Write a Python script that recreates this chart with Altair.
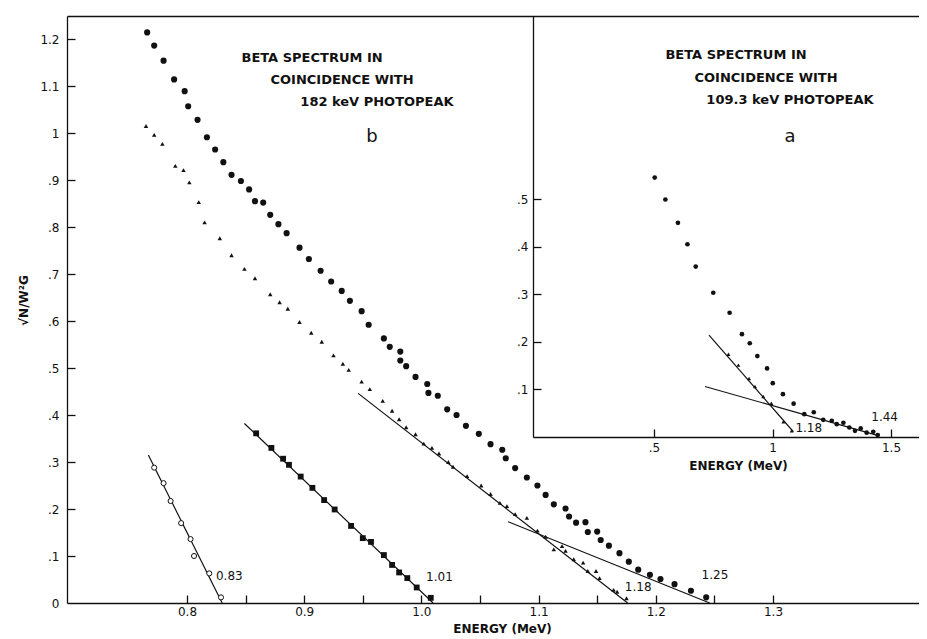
import altair as alt
import pandas as pd

# ---------------- main panel (b): 182 keV coincidence ----------------
dot_x = [0.766, 0.772, 0.780, 0.789, 0.798, 0.801, 0.809, 0.817, 0.824, 0.831, 0.838, 0.846, 0.853, 0.858,
         0.865, 0.871, 0.878, 0.885, 0.896, 0.904, 0.914, 0.923, 0.932, 0.939, 0.949, 0.955, 0.968, 0.973,
         0.982, 0.982, 0.987, 0.995, 1.005, 1.006, 1.014, 1.022, 1.030, 1.038, 1.049, 1.059, 1.069, 1.072,
         1.080, 1.090, 1.099, 1.106, 1.113, 1.123, 1.126, 1.132, 1.140, 1.142, 1.150, 1.153, 1.160, 1.169,
         1.177, 1.185, 1.195, 1.204, 1.216, 1.230, 1.243]
dot_y = [1.214, 1.186, 1.154, 1.114, 1.089, 1.057, 1.028, 0.991, 0.965, 0.938, 0.911, 0.898, 0.880, 0.855,
         0.852, 0.826, 0.806, 0.787, 0.756, 0.732, 0.707, 0.684, 0.664, 0.643, 0.621, 0.592, 0.563, 0.545,
         0.535, 0.516, 0.504, 0.481, 0.466, 0.447, 0.441, 0.412, 0.400, 0.377, 0.360, 0.338, 0.326, 0.308,
         0.287, 0.267, 0.250, 0.230, 0.210, 0.201, 0.184, 0.171, 0.172, 0.151, 0.152, 0.134, 0.122, 0.106,
         0.088, 0.071, 0.060, 0.051, 0.040, 0.026, 0.012]

tri_x = [0.765, 0.772, 0.779, 0.790, 0.797, 0.802, 0.810, 0.815, 0.828, 0.838, 0.849, 0.858, 0.871, 0.879,
         0.886, 0.896, 0.906, 0.915, 0.925, 0.933, 0.938, 0.949, 0.956, 0.967, 0.975, 0.981, 0.987, 0.995,
         1.002, 1.009, 1.015, 1.023, 1.027, 1.039, 1.051, 1.059, 1.067, 1.073, 1.080, 1.090, 1.099, 1.106,
         1.113, 1.120, 1.123, 1.130, 1.138, 1.142, 1.149, 1.152, 1.164, 1.167, 1.175]
tri_y = [1.015, 0.996, 0.977, 0.930, 0.921, 0.895, 0.853, 0.810, 0.776, 0.740, 0.711, 0.691, 0.657, 0.640,
         0.626, 0.598, 0.575, 0.556, 0.527, 0.509, 0.496, 0.471, 0.455, 0.430, 0.409, 0.391, 0.374, 0.359,
         0.339, 0.330, 0.318, 0.300, 0.290, 0.270, 0.250, 0.232, 0.213, 0.206, 0.189, 0.181, 0.154, 0.141,
         0.114, 0.121, 0.111, 0.093, 0.086, 0.068, 0.068, 0.053, 0.028, 0.024, 0.010]

sq_x = [0.859, 0.872, 0.882, 0.887, 0.897, 0.907, 0.917, 0.926, 0.940, 0.950, 0.957, 0.968, 0.975, 0.981,
        0.988, 0.996, 1.008]
sq_y = [0.361, 0.330, 0.307, 0.294, 0.269, 0.245, 0.219, 0.199, 0.164, 0.138, 0.130, 0.102, 0.081, 0.065,
        0.053, 0.033, 0.011]

open_x = [0.772, 0.780, 0.786, 0.795, 0.803, 0.806, 0.819, 0.829]
open_y = [0.288, 0.255, 0.217, 0.170, 0.136, 0.100, 0.063, 0.012]

fit_name = ["open", "open", "square", "square", "tri", "tri", "dot", "dot"]
fit_x = [0.767, 0.830, 0.849, 1.010, 0.946, 1.176, 1.074, 1.246]
fit_y = [0.315, 0.000, 0.382, 0.000, 0.446, 0.000, 0.173, 0.000]

end_text = ["0.83", "1.01", "1.18", "1.25"]
end_x = [0.8247, 1.0154, 1.185, 1.2505]
end_y = [0.057, 0.055, 0.034, 0.060]
end_align = ["left", "center", "center", "center"]

title_b = ["BETA SPECTRUM  IN", "COINCIDENCE  WITH", "182 keV PHOTOPEAK"]
title_b_x = [0.9067, 0.9323, 0.9621]
title_b_y = [1.1596, 1.1128, 1.0660]

# ---------------- inset panel (a): 109.3 keV coincidence ----------------
ins_dot_x = [0.503, 0.548, 0.601, 0.641, 0.676, 0.750, 0.819, 0.871, 0.904, 0.936, 0.977, 1.001, 1.044,
             1.089, 1.134, 1.174, 1.214, 1.250, 1.271, 1.299, 1.324, 1.348, 1.372, 1.397, 1.425, 1.444]
ins_dot_y = [0.545, 0.499, 0.450, 0.405, 0.358, 0.303, 0.261, 0.216, 0.197, 0.170, 0.144, 0.113, 0.090,
             0.070, 0.048, 0.052, 0.036, 0.034, 0.027, 0.030, 0.020, 0.013, 0.018, 0.009, 0.011, 0.004]

ins_half_x = [0.814, 0.856, 0.901, 0.926, 0.961, 0.995, 1.046, 1.081]
ins_half_y = [0.174, 0.151, 0.123, 0.106, 0.085, 0.071, 0.032, 0.013]

ins_fit_name = ["steep", "steep", "shallow", "shallow"]
ins_fit_x = [0.732, 1.088, 0.715, 1.446]
ins_fit_y = [0.214, 0.011, 0.106, 0.003]

ins_end_text = ["1.18", "1.44"]
ins_end_x = [1.153, 1.473]
ins_end_y = [0.019, 0.042]

title_a = ["BETA SPECTRUM  IN", "COINCIDENCE  WITH", "109.3 keV PHOTOPEAK"]
title_a_x = [0.846, 0.9726, 1.0738]
title_a_y = [0.8025, 0.7542, 0.708]

main_xticks = [0.8, 0.9, 1.0, 1.1, 1.2, 1.3]
main_xminor = [0.8, 0.85, 0.9, 0.95, 1.0, 1.05, 1.1, 1.15, 1.2, 1.25, 1.3]
main_yticks = [0, 0.1, 0.2, 0.3, 0.4, 0.5, 0.6, 0.7, 0.8, 0.9, 1.0, 1.1, 1.2]
ins_xticks = [0.5, 1.0, 1.5]
ins_yticks = [0.1, 0.2, 0.3, 0.4, 0.5]

FONT = "DejaVu Sans"
W, H = 852, 587

MX = alt.Scale(domain=[0.6976, 1.4246], range=[0, W], nice=False, zero=False)
MY = alt.Scale(domain=[0, 1.249], range=[H, 0], nice=False, zero=False)
IX = alt.Scale(domain=[-0.0105, 1.618], range=[466, W], nice=False, zero=False)
IY = alt.Scale(domain=[0, 0.8845], range=[421, 0], nice=False, zero=False)

LBL = "replace(format(datum.value, '~g'), '0.', '.')"

ax_main_x = alt.Axis(orient="bottom", values=main_xticks, format=".1f", ticks=False, tickSize=0,
                     labelPadding=3, domain=True, grid=False, title="ENERGY (MeV)",
                     titleX=435, titleY=29, titleBaseline="alphabetic", titleAlign="center")
ax_main_x_ticks = alt.Axis(orient="bottom", offset=-8, values=main_xminor, tickSize=8, labels=False,
                           domain=False, grid=False, title=None)
ax_main_x_top = alt.Axis(orient="top", ticks=False, labels=False, domain=True, grid=False, title=None)
ax_main_y = alt.Axis(orient="left", values=main_yticks, labelExpr=LBL, ticks=False, tickSize=0,
                     labelPadding=8, domain=True, grid=False, title="√N/W²G",
                     titleX=-44, titleY=284, titleAngle=270, titleAlign="center", titleBaseline="middle")
ax_main_y_ticks = alt.Axis(orient="left", offset=-8, values=main_yticks[1:], tickSize=8, labels=False,
                           domain=False, grid=False, title=None)

ax_ins_x = alt.Axis(orient="bottom", offset=-166, values=ins_xticks, labelExpr=LBL, ticks=False,
                    tickSize=0, labelPadding=5, domain=True, grid=False, title="ENERGY (MeV)",
                    titleX=671, titleY=28, titleBaseline="middle", titleAlign="center")
ax_ins_x_ticks = alt.Axis(orient="bottom", offset=-174, values=ins_xticks, tickSize=8, labels=False,
                          domain=False, grid=False, title=None)
ax_ins_y = alt.Axis(orient="left", offset=-466, values=ins_yticks, labelExpr=LBL, ticks=False,
                    tickSize=0, labelPadding=5, domain=True, grid=False, title=None)
ax_ins_y_ticks = alt.Axis(orient="left", offset=-474, values=ins_yticks, tickSize=8, labels=False,
                          domain=False, grid=False, title=None)

df_dot = pd.DataFrame({"x": dot_x, "y": dot_y})
df_tri = pd.DataFrame({"x": tri_x, "y": tri_y})
df_sq = pd.DataFrame({"x": sq_x, "y": sq_y})
df_open = pd.DataFrame({"x": open_x, "y": open_y})
df_fit = pd.DataFrame({"x": fit_x, "y": fit_y, "s": fit_name})
df_end = pd.DataFrame({"x": end_x, "y": end_y, "t": end_text, "a": end_align})
df_tb = pd.DataFrame({"x": title_b_x, "y": title_b_y, "t": title_b})
df_b = pd.DataFrame({"x": [0.9578], "y": [0.9915], "t": ["b"]})

df_idot = pd.DataFrame({"x": ins_dot_x, "y": ins_dot_y})
df_ihalf = pd.DataFrame({"x": ins_half_x, "y": ins_half_y})
df_ifit = pd.DataFrame({"x": ins_fit_x, "y": ins_fit_y, "s": ins_fit_name})
df_iend = pd.DataFrame({"x": ins_end_x, "y": ins_end_y, "t": ins_end_text})
df_ta = pd.DataFrame({"x": title_a_x, "y": title_a_y, "t": title_a})
df_a = pd.DataFrame({"x": [1.0738], "y": [0.630], "t": ["a"]})


def mx(axis=None):
    return alt.X("x:Q", scale=MX, axis=axis)


def my(axis=None):
    return alt.Y("y:Q", scale=MY, axis=axis)


def ix(axis=None):
    return alt.X("x:Q", scale=IX, axis=axis)


def iy(axis=None):
    return alt.Y("y:Q", scale=IY, axis=axis)


BLACK = "#111111"

l_fit = alt.Chart(df_fit).mark_line(color=BLACK, strokeWidth=1.2).encode(
    x=mx(ax_main_x_top), y=my(), detail="s:N")
l_dot = alt.Chart(df_dot).mark_point(shape="circle", filled=True, size=38, color=BLACK, opacity=1).encode(
    x=mx(ax_main_x), y=my(ax_main_y))
l_tri = alt.Chart(df_tri).mark_point(shape="triangle-up", filled=True, size=20, color=BLACK, opacity=1).encode(
    x=mx(ax_main_x_ticks), y=my(ax_main_y_ticks))
l_sq = alt.Chart(df_sq).mark_point(shape="square", filled=True, size=34, color=BLACK, opacity=1).encode(
    x=mx(), y=my())
l_open = alt.Chart(df_open).mark_point(shape="circle", filled=True, size=26, fill="white", stroke=BLACK,
                                       strokeWidth=1, opacity=1).encode(x=mx(), y=my())
l_end_left = alt.Chart(df_end[df_end.a == "left"]).mark_text(
    font=FONT, fontSize=12, align="left", baseline="middle", color=BLACK).encode(x=mx(), y=my(), text="t:N")
l_end_center = alt.Chart(df_end[df_end.a == "center"]).mark_text(
    font=FONT, fontSize=12, align="center", baseline="middle", color=BLACK).encode(x=mx(), y=my(), text="t:N")
l_tb = alt.Chart(df_tb).mark_text(font=FONT, fontSize=13, fontWeight="bold", align="center",
                                  baseline="middle", color=BLACK).encode(x=mx(), y=my(), text="t:N")
l_b = alt.Chart(df_b).mark_text(font=FONT, fontSize=18, align="center", baseline="middle",
                                color=BLACK).encode(x=mx(), y=my(), text="t:N")

l_ifit = alt.Chart(df_ifit).mark_line(color=BLACK, strokeWidth=1.2).encode(x=ix(), y=iy(), detail="s:N")
l_idot = alt.Chart(df_idot).mark_point(shape="circle", filled=True, size=22, color=BLACK, opacity=1).encode(
    x=ix(ax_ins_x), y=iy(ax_ins_y))
l_ihalf = alt.Chart(df_ihalf).mark_point(shape="triangle-up", filled=True, size=16, color=BLACK,
                                         opacity=1).encode(x=ix(ax_ins_x_ticks), y=iy(ax_ins_y_ticks))
l_iend = alt.Chart(df_iend).mark_text(font=FONT, fontSize=12, align="center", baseline="middle",
                                      color=BLACK).encode(x=ix(), y=iy(), text="t:N")
l_ta = alt.Chart(df_ta).mark_text(font=FONT, fontSize=13, fontWeight="bold", align="center",
                                  baseline="middle", color=BLACK).encode(x=ix(), y=iy(), text="t:N")
l_a = alt.Chart(df_a).mark_text(font=FONT, fontSize=18, align="center", baseline="middle",
                                color=BLACK).encode(x=ix(), y=iy(), text="t:N")

chart = alt.layer(
    l_fit, l_dot, l_tri, l_sq, l_open, l_end_left, l_end_center, l_tb, l_b,
    l_ifit, l_idot, l_ihalf, l_iend, l_ta, l_a,
).resolve_scale(
    x="independent", y="independent"
).properties(
    width=W, height=H,
    padding={"left": 59, "top": 8, "right": 0, "bottom": 34},
    autosize=alt.AutoSizeParams(type="none"),
    background="white",
).configure_view(
    stroke=None
).configure_axis(
    labelFont=FONT, labelFontSize=12, labelColor=BLACK,
    titleFont=FONT, titleFontSize=12, titleFontWeight="bold", titleColor=BLACK,
    domainColor=BLACK, domainWidth=1.3, tickColor=BLACK, tickWidth=1.3,
)

chart.save("out.html", embed_options={"renderer": "svg", "actions": False})
